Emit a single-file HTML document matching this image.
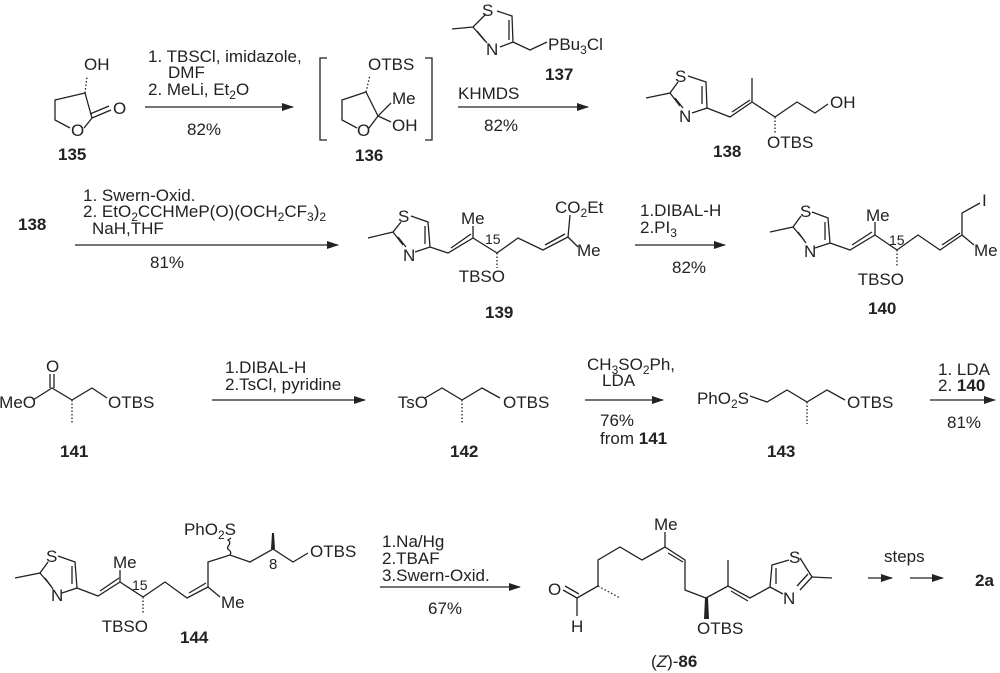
<!DOCTYPE html>
<html><head><meta charset="utf-8"><style>
html,body{margin:0;padding:0;background:#fff}
svg{display:block}
text{font-family:"Liberation Sans",Arial,sans-serif;font-size:17px;fill:#222}
.b{font-weight:bold}
.s{font-size:12px}
.e{text-anchor:end}
line,polyline,path{stroke:#222;stroke-width:1.3;fill:none}
.ar{fill:#222;stroke:none}
</style></head><body>
<svg width="1000" height="673" viewBox="0 0 1000 673" xmlns="http://www.w3.org/2000/svg">
<defs>
<marker id="a" markerWidth="12" markerHeight="8" refX="11" refY="4" orient="auto" markerUnits="userSpaceOnUse"><path d="M0,0 L12,4 L0,8 z" class="ar"/></marker>
</defs>

<!-- 135 -->
<polyline points="85,93 55,100 55,120 70,128"/>
<polyline points="84,128 92,118 85,93"/>
<line x1="92" y1="118" x2="111" y2="110"/><line x1="90" y1="114" x2="109" y2="106"/>
<text x="113" y="114">O</text><text x="71" y="136">O</text>
<path d="M85,93 L87,77" stroke-dasharray="1.5,2" stroke-width="2.5"/>
<text x="84" y="70">OH</text>
<text x="58" y="160" class="b">135</text>

<!-- arrow 1 -->
<line x1="145" y1="107" x2="293" y2="107" marker-end="url(#a)"/>
<text x="148" y="62">1. TBSCl, imidazole,</text>
<text x="168" y="78">DMF</text>
<text x="148" y="95">2. MeLi, Et<tspan class="s" dy="4">2</tspan><tspan dy="-4">O</tspan></text>
<text x="187" y="135">82%</text>

<!-- 136 -->
<polyline points="327,58 320,58 320,140 327,140"/>
<polyline points="425,58 432,58 432,140 425,140"/>
<polyline points="366,92 342,100 342,120 357,128"/>
<polyline points="369,128 378,116 366,92"/>
<line x1="378" y1="116" x2="391" y2="103"/><line x1="378" y1="116" x2="391" y2="122"/>
<path d="M366,92 L370,75" stroke-dasharray="1.5,2" stroke-width="2.5"/>
<text x="368" y="70">OTBS</text>
<text x="392" y="104">Me</text><text x="392" y="131">OH</text>
<text x="357" y="136">O</text>
<text x="355" y="161" class="b">136</text>

<!-- 137 -->
<polyline points="452,29 473,27 486,14"/>
<line x1="477" y1="31" x2="487" y2="43"/>
<text x="482" y="16">S</text>
<polyline points="497,11 512,16 513,42 500,47"/>
<line x1="509" y1="20" x2="509" y2="40"/>
<text x="486" y="55">N</text>
<line x1="473" y1="27" x2="485" y2="41"/>
<polyline points="513,42 530,50 547,42"/>
<text x="548" y="50">PBu<tspan class="s" dy="4">3</tspan><tspan dy="-4">Cl</tspan></text>
<text x="545" y="80" class="b">137</text>

<!-- arrow 2 -->
<line x1="458" y1="107" x2="588" y2="107" marker-end="url(#a)"/>
<text x="458" y="99">KHMDS</text>
<text x="484" y="131">82%</text>

<!-- 138 -->
<polyline points="646,98 670,93 678,82"/>
<text x="675" y="82">S</text>
<polyline points="688,76 706,82 707,108 692,113"/>
<line x1="702" y1="86" x2="702" y2="104"/>
<text x="679" y="122">N</text>
<line x1="670" y1="93" x2="680" y2="106"/><line x1="675" y1="98" x2="683" y2="108"/>
<polyline points="707,108 730,117 752,102 775,117 797,102 815,113 828,104"/>
<line x1="732" y1="112" x2="750" y2="100"/>
<line x1="752" y1="102" x2="752" y2="78"/>
<path d="M775,117 L775,134" stroke-dasharray="1.5,2" stroke-width="3"/>
<text x="767" y="148">OTBS</text>
<text x="830" y="108">OH</text>
<text x="713" y="157" class="b">138</text>

<!-- row 2 -->
<text x="18" y="230" class="b">138</text>
<line x1="75" y1="245" x2="338" y2="245" marker-end="url(#a)"/>
<text x="83" y="201">1. Swern-Oxid.</text>
<text x="83" y="217">2. EtO<tspan class="s" dy="4">2</tspan><tspan dy="-4">CCHMeP(O)(OCH</tspan><tspan class="s" dy="4">2</tspan><tspan dy="-4">CF</tspan><tspan class="s" dy="4">3</tspan><tspan dy="-4">)</tspan><tspan class="s" dy="4">2</tspan></text>
<text x="92" y="234">NaH,THF</text>
<text x="150" y="268">81%</text>

<!-- 139 -->
<polyline points="368,238 393,232 401,222"/>
<text x="398" y="222">S</text>
<polyline points="411,216 428,222 430,247 415,252"/>
<line x1="425" y1="226" x2="425" y2="244"/>
<text x="403" y="261">N</text>
<line x1="393" y1="232" x2="403" y2="245"/><line x1="398" y1="237" x2="406" y2="247"/>
<polyline points="430,247 448,253 473,238 497,253 518,238 543,250 568,237"/>
<line x1="451" y1="248" x2="471" y2="234"/>
<line x1="545" y1="245" x2="565" y2="234"/>
<line x1="473" y1="238" x2="473" y2="226"/>
<text x="461" y="224">Me</text>
<text x="485" y="244" style="font-size:14px">15</text>
<path d="M497,253 L497,268" stroke-dasharray="1.5,2" stroke-width="3"/>
<text x="505" y="282" class="e">TBSO</text>
<line x1="568" y1="237" x2="570" y2="215"/>
<line x1="568" y1="237" x2="578" y2="247"/>
<text x="555" y="213">CO<tspan class="s" dy="4">2</tspan><tspan dy="-4">Et</tspan></text>
<text x="577" y="256">Me</text>
<text x="485" y="318" class="b">139</text>

<line x1="635" y1="245" x2="725" y2="245" marker-end="url(#a)"/>
<text x="640" y="216">1.DIBAL-H</text>
<text x="640" y="233">2.PI<tspan class="s" dy="4">3</tspan></text>
<text x="672" y="273">82%</text>

<!-- 140 -->
<polyline points="770,232 793,227 801,216"/>
<text x="800" y="217">S</text>
<polyline points="812,212 828,218 830,243 815,248"/>
<line x1="825" y1="222" x2="825" y2="240"/>
<text x="804" y="257">N</text>
<line x1="793" y1="227" x2="804" y2="240"/><line x1="798" y1="232" x2="806" y2="243"/>
<polyline points="830,243 850,250 875,235 897,250 918,235 940,250 962,235"/>
<line x1="852" y1="245" x2="872" y2="232"/>
<line x1="942" y1="245" x2="960" y2="233"/>
<line x1="875" y1="235" x2="875" y2="222"/>
<text x="866" y="221">Me</text>
<text x="889" y="245" style="font-size:14px">15</text>
<path d="M897,250 L897,266" stroke-dasharray="1.5,2" stroke-width="3"/>
<text x="904" y="285" class="e">TBSO</text>
<polyline points="962,235 962,213 980,203"/>
<text x="982" y="206">I</text>
<line x1="962" y1="235" x2="974" y2="245"/>
<text x="974" y="256">Me</text>
<text x="868" y="314" class="b">140</text>

<!-- row 3: 141 -->
<text x="36" y="408" class="e">MeO</text>
<polyline points="33,400 52,388 72,400 92,388 107,398"/>
<line x1="50" y1="388" x2="50" y2="374"/><line x1="54" y1="388" x2="54" y2="374"/>
<text x="46" y="372">O</text>
<path d="M72,400 L72,423" stroke-dasharray="1.5,2" stroke-width="3"/>
<text x="108" y="408">OTBS</text>
<text x="60" y="457" class="b">141</text>

<line x1="212" y1="400" x2="365" y2="400" marker-end="url(#a)"/>
<text x="225" y="373">1.DIBAL-H</text>
<text x="225" y="390">2.TsCl, pyridine</text>

<!-- 142 -->
<text x="428" y="408" class="e">TsO</text>
<polyline points="425,398 442,388 462,400 482,388 500,398"/>
<path d="M462,400 L462,423" stroke-dasharray="1.5,2" stroke-width="3"/>
<text x="503" y="408">OTBS</text>
<text x="450" y="457" class="b">142</text>

<line x1="585" y1="400" x2="663" y2="400" marker-end="url(#a)"/>
<text x="587" y="370">CH<tspan class="s" dy="4">3</tspan><tspan dy="-4">SO</tspan><tspan class="s" dy="4">2</tspan><tspan dy="-4">Ph,</tspan></text>
<text x="602" y="386">LDA</text>
<text x="600" y="426">76%</text>
<text x="600" y="444">from  <tspan class="b">141</tspan></text>

<!-- 143 -->
<text x="749" y="404" class="e">PhO<tspan class="s" dy="4">2</tspan><tspan dy="-4">S</tspan></text>
<polyline points="750,396 767,402 787,390 807,402 827,390 845,400"/>
<path d="M807,402 L807,424" stroke-dasharray="1.5,2" stroke-width="3"/>
<text x="847" y="408">OTBS</text>
<text x="767" y="457" class="b">143</text>

<line x1="930" y1="400" x2="995" y2="400" marker-end="url(#a)"/>
<text x="938" y="375">1. LDA</text>
<text x="938" y="391">2. <tspan class="b">140</tspan></text>
<text x="947" y="428">81%</text>

<!-- 144 -->
<polyline points="15,578 40,573 48,562"/>
<text x="46" y="562">S</text>
<polyline points="58,556 75,562 77,588 62,593"/>
<line x1="72" y1="566" x2="72" y2="584"/>
<text x="51" y="601">N</text>
<line x1="40" y1="573" x2="51" y2="586"/><line x1="45" y1="578" x2="53" y2="589"/>
<polyline points="77,588 98,596 120,582 143,597 165,582 187,598 208,587"/>
<line x1="100" y1="591" x2="119" y2="578"/>
<line x1="189" y1="593" x2="206" y2="583"/>
<line x1="120" y1="582" x2="120" y2="570"/>
<text x="113" y="568">Me</text>
<text x="132" y="590" style="font-size:14px">15</text>
<path d="M143,597 L143,614" stroke-dasharray="1.5,2" stroke-width="3"/>
<text x="148" y="632" class="e">TBSO</text>
<line x1="208" y1="587" x2="220" y2="597"/>
<text x="221" y="608">Me</text>
<polyline points="208,587 208,562 230,555 250,562 273,549 293,562 308,553"/>
<path d="M230,555 q2,-3 -1,-5 q-3,-2 0,-5 q2,-3 -1,-5 L231,538" />
<text x="236" y="535" class="e">PhO<tspan class="s" dy="4">2</tspan><tspan dy="-4">S</tspan></text>
<path d="M271,549 L275,549 L274,533 L272,533 z" class="ar"/>
<text x="269" y="569" style="font-size:15px">8</text>
<text x="310" y="557">OTBS</text>
<text x="180" y="643" class="b">144</text>

<line x1="380" y1="587" x2="500" y2="587"/>
<text x="382" y="547">1.Na/Hg</text>
<text x="382" y="564">2.TBAF</text>
<text x="382" y="581">3.Swern-Oxid.</text>
<text x="428" y="614">67%</text>
<line x1="500" y1="587" x2="520" y2="587" marker-end="url(#a)"/>

<!-- 86 -->
<text x="548" y="595">O</text>
<line x1="563" y1="590" x2="577" y2="598"/><line x1="565" y1="586" x2="579" y2="594"/>
<line x1="577" y1="598" x2="577" y2="616"/>
<text x="571" y="632">H</text>
<polyline points="577,598 598,586 598,560 620,547 642,560 665,547 685,560 685,590 706,598 728,586 750,598 770,587"/>
<line x1="668" y1="553" x2="683" y2="562"/>
<line x1="731" y1="591" x2="748" y2="601"/>
<path d="M598,586 L620,598" stroke-dasharray="1.5,2.2" stroke-width="3"/>
<line x1="665" y1="547" x2="665" y2="532"/>
<text x="654" y="530">Me</text>
<line x1="728" y1="586" x2="728" y2="560"/>
<path d="M705,598 L708,598 L709,619 L704,619 z" class="ar"/>
<text x="697" y="634">OTBS</text>
<polyline points="770,587 772,565 789,560"/>
<line x1="776" y1="568" x2="776" y2="584"/>
<text x="789" y="563">S</text>
<line x1="800" y1="558" x2="812" y2="577"/>
<line x1="812" y1="577" x2="800" y2="590"/><line x1="808" y1="574" x2="797" y2="586"/>
<line x1="812" y1="577" x2="832" y2="578"/>
<text x="783" y="604">N</text>
<line x1="770" y1="587" x2="783" y2="594"/>
<text x="651" y="667">(<tspan font-style="italic">Z</tspan>)-<tspan class="b">86</tspan></text>

<text x="884" y="562">steps</text>
<line x1="868" y1="578" x2="892" y2="578" marker-end="url(#a)"/>
<line x1="910" y1="578" x2="943" y2="578" marker-end="url(#a)"/>
<text x="975" y="586" class="b">2a</text>
</svg>
</body></html>
